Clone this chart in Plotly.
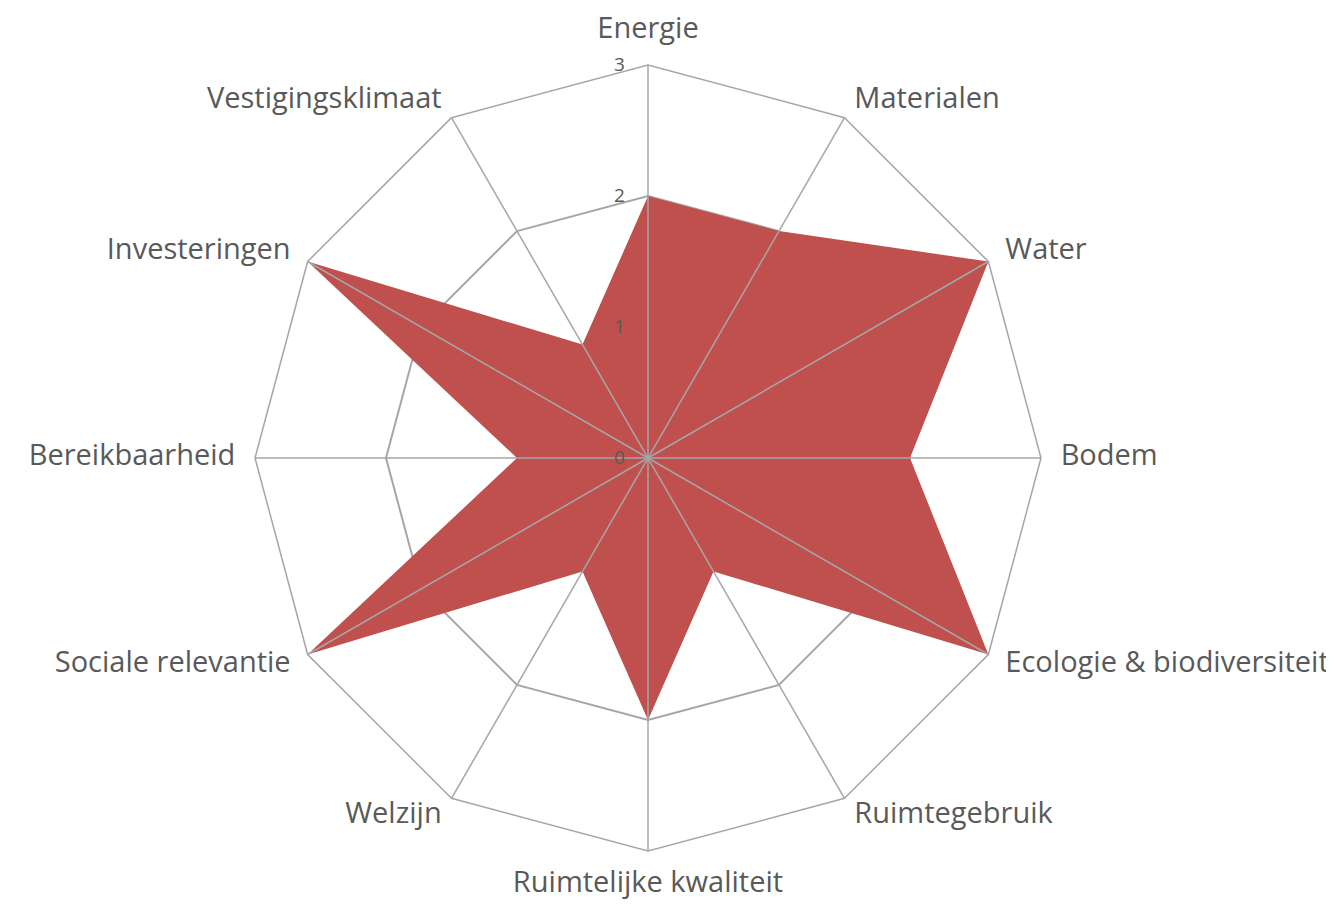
import plotly.graph_objects as go

categories = ["Energie", "Materialen", "Water", "Bodem", "Ecologie & biodiversiteit",
              "Ruimtegebruik", "Ruimtelijke kwaliteit", "Welzijn", "Sociale relevantie",
              "Bereikbaarheid", "Investeringen", "Vestigingsklimaat"]
scores = [2, 2, 3, 2, 3, 1, 2, 1, 3, 1, 3, 1]
radial_ticks = [0, 1, 2, 3]

# label anchor placement (style only)
label_positions = ["top center", "middle right", "middle right", "middle right",
                   "middle right", "middle right", "bottom center", "middle left",
                   "middle left", "middle left", "middle left", "middle left"]
label_offset = 1.05
label_scale = 1.1

W, H = 1334, 906
cx, cy, R = 640, 450, 393


def dom(radius):
    return (dict(x=[(cx - radius) / W, (cx + radius) / W],
                 y=[(H - cy - radius) / H, (H - cy + radius) / H]))


rmax = max(radial_ticks)
fig = go.Figure()
fig.add_trace(go.Scatterpolar(
    r=scores + [scores[0]], theta=categories + [categories[0]],
    fill="toself", fillcolor="#C0504D", mode="none", hoverinfo="skip",
    showlegend=False))
for c in categories:
    fig.add_trace(go.Scatterpolar(
        r=[0, rmax], theta=[c, c], mode="lines",
        line=dict(color="#A6A6A6", width=1.5), hoverinfo="skip", showlegend=False))
fig.add_trace(go.Scatterpolar(
    r=[rmax * label_offset] * len(categories), theta=categories, mode="text",
    text=categories, textposition=label_positions, cliponaxis=False,
    textfont=dict(family="Open Sans", size=29, color="#595959"),
    hoverinfo="skip", showlegend=False, subplot="polar2"))

hidden_axis = dict(showgrid=False, showline=False, showticklabels=False, ticks="")

fig.update_layout(
    width=W, height=H, margin=dict(l=0, r=0, t=0, b=0),
    paper_bgcolor="white", plot_bgcolor="white",
    font=dict(family="Open Sans", color="#595959"),
    polar=dict(
        domain=dom(R),
        bgcolor="white",
        gridshape="linear",
        angularaxis=dict(
            direction="clockwise", rotation=90,
            showgrid=False, showline=True, linecolor="#A6A6A6", linewidth=1.5,
            ticks="", showticklabels=False,
        ),
        radialaxis=dict(
            range=[0, rmax], tickvals=radial_ticks, ticktext=[str(t) for t in radial_ticks],
            angle=90, side="counterclockwise", tickangle=90,
            showline=False, ticks="outside", ticklen=16, tickcolor="rgba(0,0,0,0)",
            gridcolor="#A6A6A6", gridwidth=1.5,
            tickfont=dict(size=19, color="#595959"),
        ),
    ),
    polar2=dict(
        domain=dom(R * label_scale),
        bgcolor="rgba(0,0,0,0)",
        angularaxis=dict(direction="clockwise", rotation=90, **hidden_axis),
        radialaxis=dict(range=[0, rmax * label_scale], **hidden_axis),
    ),
)
fig.write_html("out.html")
